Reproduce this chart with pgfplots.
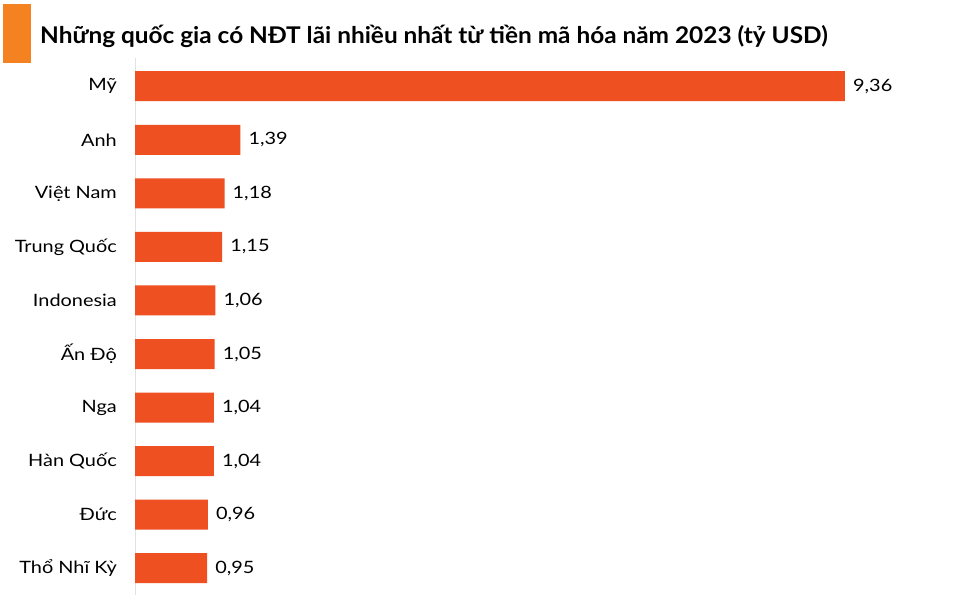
\documentclass[border=0pt]{standalone}
\usepackage{pgfplots}
\pgfplotsset{compat=1.18}
\usepackage{fontspec}
\setmainfont{Lato}
\newfontfamily\labelfont[FakeStretch=1.17]{Lato}
\newfontfamily\titlefont[FakeStretch=1.06]{Lato}
\definecolor{barred}{RGB}{238,80,34}
\definecolor{boxorange}{RGB}{245,130,32}
\definecolor{axisgrey}{RGB}{225,225,225}
\begin{document}
\begin{tikzpicture}
\useasboundingbox (0,0) rectangle (957bp,604bp);
% orange marker before the title
\fill[boxorange] (3bp,541bp) rectangle (31bp,600bp);
\node[anchor=base west, inner sep=0pt, font=\titlefont\fontsize{23bp}{27bp}\selectfont\bfseries]
  at (40bp,560bp) {Những quốc gia có NĐT lãi nhiều nhất từ tiền mã hóa năm 2023 (tỷ USD)};
\begin{axis}[
    at={(135bp,9bp)}, anchor=south west,
    scale only axis, width=758.5bp, height=536.6bp,
    xmin=0, xmax=10, ymin=-0.5, ymax=9.52,
    xbar, bar width=30bp,
    axis x line=none, axis y line*=left,
    y axis line style={draw=axisgrey, line width=0.8bp},
    xtick=\empty,
    ytick={0,...,9},
    yticklabels={Thổ Nhĩ Kỳ, Đức, Hàn Quốc, Nga, Ấn Độ, Indonesia, Trung Quốc, Việt Nam, Anh\hspace{6bp}, Mỹ},
    major tick length=0pt,
    yticklabel style={font=\labelfont\fontsize{17bp}{20bp}\selectfont, inner sep=0pt, xshift=-18bp},
    nodes near coords,
    nodes near coords style={font=\labelfont\fontsize{17bp}{20bp}\selectfont, anchor=west, inner sep=0pt, xshift=8bp},
    /pgf/number format/assume math mode=true,
    /pgf/number format/use comma,
    /pgf/number format/fixed,
    /pgf/number format/fixed zerofill,
    /pgf/number format/precision=2,
]
\addplot[fill=barred, draw=none] coordinates {
    (0.95,0) (0.96,1) (1.04,2) (1.04,3) (1.05,4)
    (1.06,5) (1.15,6) (1.18,7) (1.39,8) (9.36,9)
};
\end{axis}
\end{tikzpicture}
\end{document}
